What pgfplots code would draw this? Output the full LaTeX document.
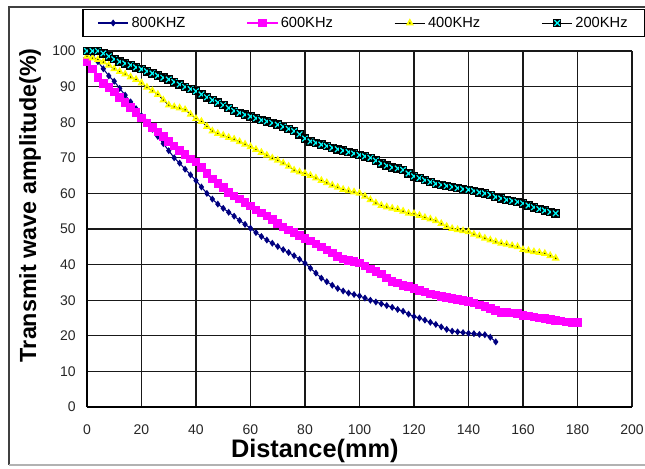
\documentclass[border=0pt]{standalone}
\usepackage{fontspec}
\setmainfont{Liberation Sans}
\usepackage{pgfplots}
\usepackage{pgfplotstable}
\pgfplotsset{compat=1.18}
\definecolor{navyc}{HTML}{000080}
\definecolor{magc}{HTML}{FF00FF}
\definecolor{yelc}{HTML}{FFFF00}
\definecolor{cyac}{HTML}{00FFFF}
\pgfdeclareplotmark{sqx}{%
  \pgfpathrectangle{\pgfpoint{-\pgfplotmarksize}{-\pgfplotmarksize}}{\pgfpoint{2\pgfplotmarksize}{2\pgfplotmarksize}}%
  \pgfsetfillcolor{black}\pgfusepathqfill
  \pgfsetstrokecolor{cyac}\pgfsetlinewidth{0.9pt}%
  \pgfpathmoveto{\pgfpoint{-0.65\pgfplotmarksize}{-0.65\pgfplotmarksize}}%
  \pgfpathlineto{\pgfpoint{0.65\pgfplotmarksize}{0.65\pgfplotmarksize}}%
  \pgfpathmoveto{\pgfpoint{-0.65\pgfplotmarksize}{0.65\pgfplotmarksize}}%
  \pgfpathlineto{\pgfpoint{0.65\pgfplotmarksize}{-0.65\pgfplotmarksize}}%
  \pgfusepathqstroke
}
\pgfplotstableread{
x y
0 100
2 98.8
4 97
6 95
8 93
10 91.5
12 89.5
14 87.6
16 85.7
18 83.8
20 81.8
22 80
24 78
26 76
28 74
30 72
32 70
34 68.5
36 66.8
38 65.2
40 63.6
42 61.8
44 60
46 58.4
48 57
50 55.8
52 54.7
54 53.6
56 52.4
58 51.3
60 50.2
62 49
64 47.9
66 46.9
68 46
70 45.1
72 44.2
74 43.4
76 42.5
78 41.5
80 40.4
82 39
84 37.6
86 36.2
88 35.2
90 34.2
92 33.3
94 32.6
96 32
98 31.6
100 31.2
102 30.6
104 30
106 29.5
108 29
110 28.5
112 28
114 27.4
116 26.9
118 26.1
120 25.4
122 25
124 24.4
126 23.8
128 23.2
130 22.5
132 21.8
134 21.3
136 21.1
138 20.9
140 20.7
142 20.6
144 20.4
146 20.3
148 19.6
150 18.3
}\tabA
\pgfplotstableread{
x y
0 97
2 95
4 92.5
6 90.8
8 89.8
10 88.5
12 87
14 85.6
16 84.2
18 82.7
20 81.2
22 79.8
24 78.5
26 77.3
28 76
30 74.6
32 73.3
34 72
36 70.9
38 69.7
40 68.8
42 67.3
44 65.6
46 64
48 62.8
50 61.6
52 60.3
54 59.3
56 58.4
58 57.4
60 56.4
62 55.4
64 54.5
66 53.6
68 52.7
70 51.6
72 50.6
74 49.7
76 49
78 48.2
80 47.4
82 46.6
84 45.8
86 45
88 44.1
90 43.2
92 42.3
94 41.6
96 41.2
98 40.8
100 40.4
102 39.6
104 38.8
106 38.1
108 37.4
110 36.3
112 35.3
114 34.8
116 34.2
118 33.8
120 33.3
122 32.8
124 32.3
126 31.8
128 31.4
130 31.1
132 30.8
134 30.5
136 30.2
138 29.9
140 29.6
142 29.2
144 28.7
146 28.2
148 27.7
150 27.1
152 26.6
154 26.5
156 26.4
158 26.2
160 25.7
162 25.5
164 25.3
166 25
168 24.8
170 24.6
172 24.3
174 24.1
176 23.9
178 23.8
180 23.7
}\tabB
\pgfplotstableread{
x y
0 98.5
2 98
4 97.6
6 96.9
8 96
10 95
12 94.2
14 93.5
16 92.7
18 92
20 91
22 89.8
24 88.8
26 87.8
28 86.2
30 84.8
32 84.3
34 84
36 83.5
38 82.2
40 81
42 80.2
44 78.8
46 77.5
48 76.8
50 76.3
52 75.7
54 75.2
56 74.5
58 73.8
60 73.1
62 72.3
64 71.5
66 70.7
68 69.9
70 69.3
72 68.5
74 67.6
76 66.5
78 66
80 65.6
82 65
84 64.3
86 63.6
88 63
90 62.3
92 61.7
94 61.1
96 60.7
98 60.4
100 60
102 59.2
104 58.2
106 57.3
108 56.6
110 56.2
112 55.8
114 55.5
116 55
118 54.4
120 54.3
122 53.8
124 53.2
126 52.8
128 52.3
130 51.5
132 50.7
134 50.1
136 49.8
138 49.5
140 49.2
142 48.5
144 48
146 47.4
148 46.9
150 46.4
152 46
154 45.7
156 45.3
158 45
160 44.2
162 43.9
164 43.6
166 43.4
168 43.1
170 42.5
172 41.8
}\tabC
\pgfplotstableread{
x y
0 100
2 100
4 100
6 99.3
8 98.5
10 97.7
12 97
14 96.5
16 96
18 95.4
20 94.9
22 94.3
24 93.7
26 93.1
28 92.5
30 92
32 91.3
34 90.6
36 89.9
38 89.3
40 88.7
42 87.8
44 87
46 86.2
48 85.5
50 84.8
52 84
54 83.2
56 82.6
58 82.1
60 81.6
62 81.1
64 80.6
66 80.2
68 79.8
70 79.3
72 78.7
74 78.1
76 77.5
78 76.6
80 75.4
82 74.6
84 74.2
86 73.7
88 73.3
90 72.8
92 72.4
94 72
96 71.6
98 71.2
100 70.8
102 70.4
104 70
106 69.2
108 68.4
110 67.8
112 67.3
114 67
116 66.6
118 65.6
120 64.8
122 64.3
124 63.7
126 63.2
128 62.7
130 62.4
132 62.1
134 61.8
136 61.5
138 61.2
140 61
142 60.7
144 60.3
146 60
148 59.6
150 59
152 58.6
154 58.2
156 57.9
158 57.6
160 57.2
162 56.6
164 56.1
166 55.6
168 55.2
170 54.8
172 54.4
}\tabD
\begin{document}
\begin{tikzpicture}
\useasboundingbox (-65.25pt,-45.75pt) rectangle (418.5pt,305.25pt);
\draw[line width=0.8pt, black!75] (418.5pt,300pt) -- (-58.5pt,300pt) -- (-58.5pt,-43.5pt);
\draw[line width=0.8pt, black!30] (-58.5pt,-43.5pt) -- (418.5pt,-43.5pt);
\begin{axis}[
  scale only axis,
  width=408.75pt, height=267pt,
  xmin=0, xmax=200, ymin=0, ymax=100,
  xtick={0,20,...,200}, ytick={0,10,...,100},
  grid=major,
  major grid style={black!90, line width=0.9pt},
  axis lines=left,
  axis line style={-, line width=1.2pt, black},
  major tick length=0pt,
  /pgf/number format/assume math mode=true,
  tick label style={font=\fontsize{10.5}{12}\selectfont, text=black!85},
  yticklabel style={xshift=-5pt},
  xticklabel style={yshift=-10pt},
  xlabel={Distance(mm)},
  ylabel={Transmit wave amplitude(\%)},
  xlabel style={font=\fontsize{19}{22}\selectfont\bfseries, at={(axis description cs:0.418,0)}, anchor=center, yshift=-33pt},
  ylabel style={font=\fontsize{17.5}{20}\selectfont\bfseries, at={(axis description cs:-0.1046,0.567)}, anchor=center},
  legend columns=4,
  legend cell align=left,
  legend style={at={(axis description cs:0.508,1.0787)}, anchor=center, draw=black, line width=1.2pt,
    font=\fontsize{11}{13}\selectfont, inner ysep=3.5pt, inner xsep=11pt,
    /tikz/every even column/.append style={column sep=44pt}},
  legend image code/.code={\draw[mark repeat=2,mark phase=2,#1] plot coordinates {(0cm,0cm) (0.4cm,0cm) (0.8cm,0cm)};},
]
\addplot[navyc, line width=0.8pt, mark=diamond*, mark size=2pt, mark options={fill=navyc, draw=navyc}] table[x=x,y=y]{\tabA};
\addlegendentry{800KHZ}
\addplot[magc, line width=0.8pt, mark=square*, mark size=2.8pt, mark options={fill=magc, draw=magc}] table[x=x,y=y]{\tabB};
\addlegendentry{600KHz}
\addplot[black, line width=0.6pt, mark=triangle*, mark size=2.2pt, mark options={fill=black, draw=yelc, line width=1.3pt}] table[x=x,y=y]{\tabC};
\addlegendentry{400KHz}
\addplot[black, line width=0.6pt, mark=sqx, mark size=3.2pt] table[x=x,y=y]{\tabD};
\addlegendentry{200KHz}
\end{axis}
\end{tikzpicture}
\end{document}
